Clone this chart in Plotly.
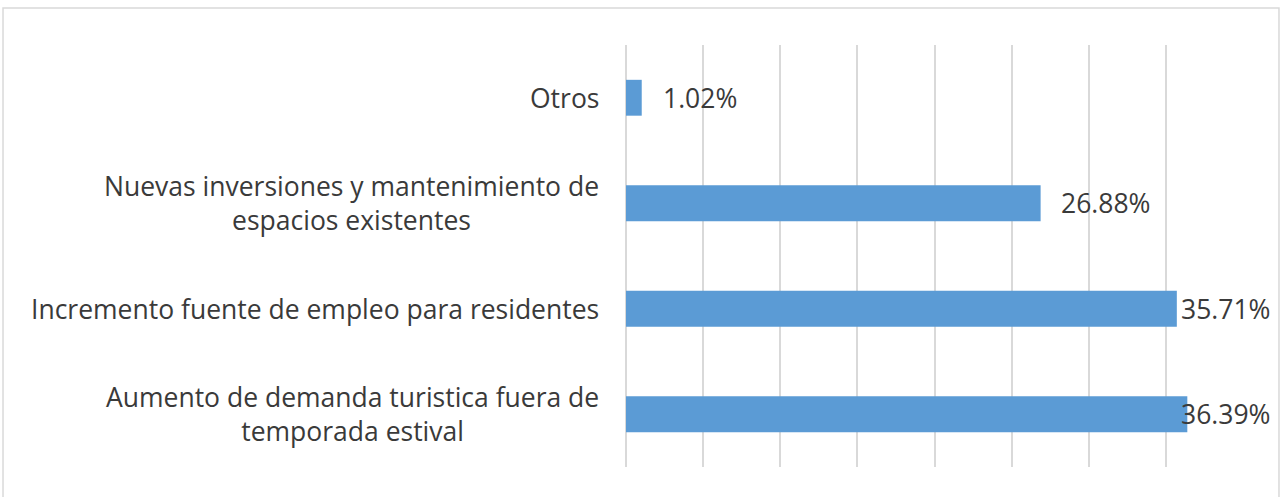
import plotly.graph_objects as go

categories = [
    "Otros",
    "Nuevas inversiones y mantenimiento de<br>espacios existentes",
    "Incremento fuente de empleo para residentes",
    "Aumento de demanda turistica fuera de<br>temporada estival",
]
values = [1.02, 26.88, 35.71, 36.39]
label_shift = [19, 18, 2, -8]

FONT = "Open Sans"
TEXT = "#3a3a3a"

fig = go.Figure()
fig.add_trace(
    go.Bar(
        x=values,
        y=categories,
        orientation="h",
        marker=dict(color="#5B9BD5", line=dict(width=0)),
        hoverinfo="skip",
    )
)

# category labels (centered multi-line, right aligned block)
for cat in categories:
    fig.add_annotation(
        x=0, xref="paper", y=cat, yref="y",
        text=cat, showarrow=False,
        xanchor="right", yanchor="middle", align="center",
        xshift=-25,
        font=dict(family=FONT, size=26.5, color=TEXT),
    )

# data labels
for cat, v, s in zip(categories, values, label_shift):
    fig.add_annotation(
        x=v, y=cat, text=f"{v:.2f}%", showarrow=False,
        xanchor="left", yanchor="middle", xshift=s,
        font=dict(family=FONT, size=26.5, color=TEXT),
    )

# chart frame
fig.add_shape(
    type="rect", xref="paper", yref="paper",
    x0=-1.0097, x1=1.0583, y0=-0.2, y1=1.0877,
    line=dict(color="#D9D9D9", width=1.5),
    layer="below",
)

fig.update_layout(
    width=1280,
    height=497,
    margin=dict(l=626, r=37, t=45, b=30),
    plot_bgcolor="white",
    paper_bgcolor="white",
    showlegend=False,
    bargap=0.66,
    font=dict(family=FONT, color=TEXT),
)
fig.update_xaxes(
    range=[0, 40], dtick=5, showticklabels=False,
    showgrid=True, gridcolor="#D9D9D9", gridwidth=1.5,
    zeroline=True, zerolinecolor="#D9D9D9", zerolinewidth=1.5,
    showline=False, fixedrange=True,
)
fig.update_yaxes(
    autorange="reversed", showticklabels=False, showgrid=False,
    showline=False, fixedrange=True,
)

# drop the default page margin so the figure sits at the window corner
fig.write_html(
    "out.html",
    config={"displayModeBar": False},
    post_script="document.body.style.margin='0px';",
)
